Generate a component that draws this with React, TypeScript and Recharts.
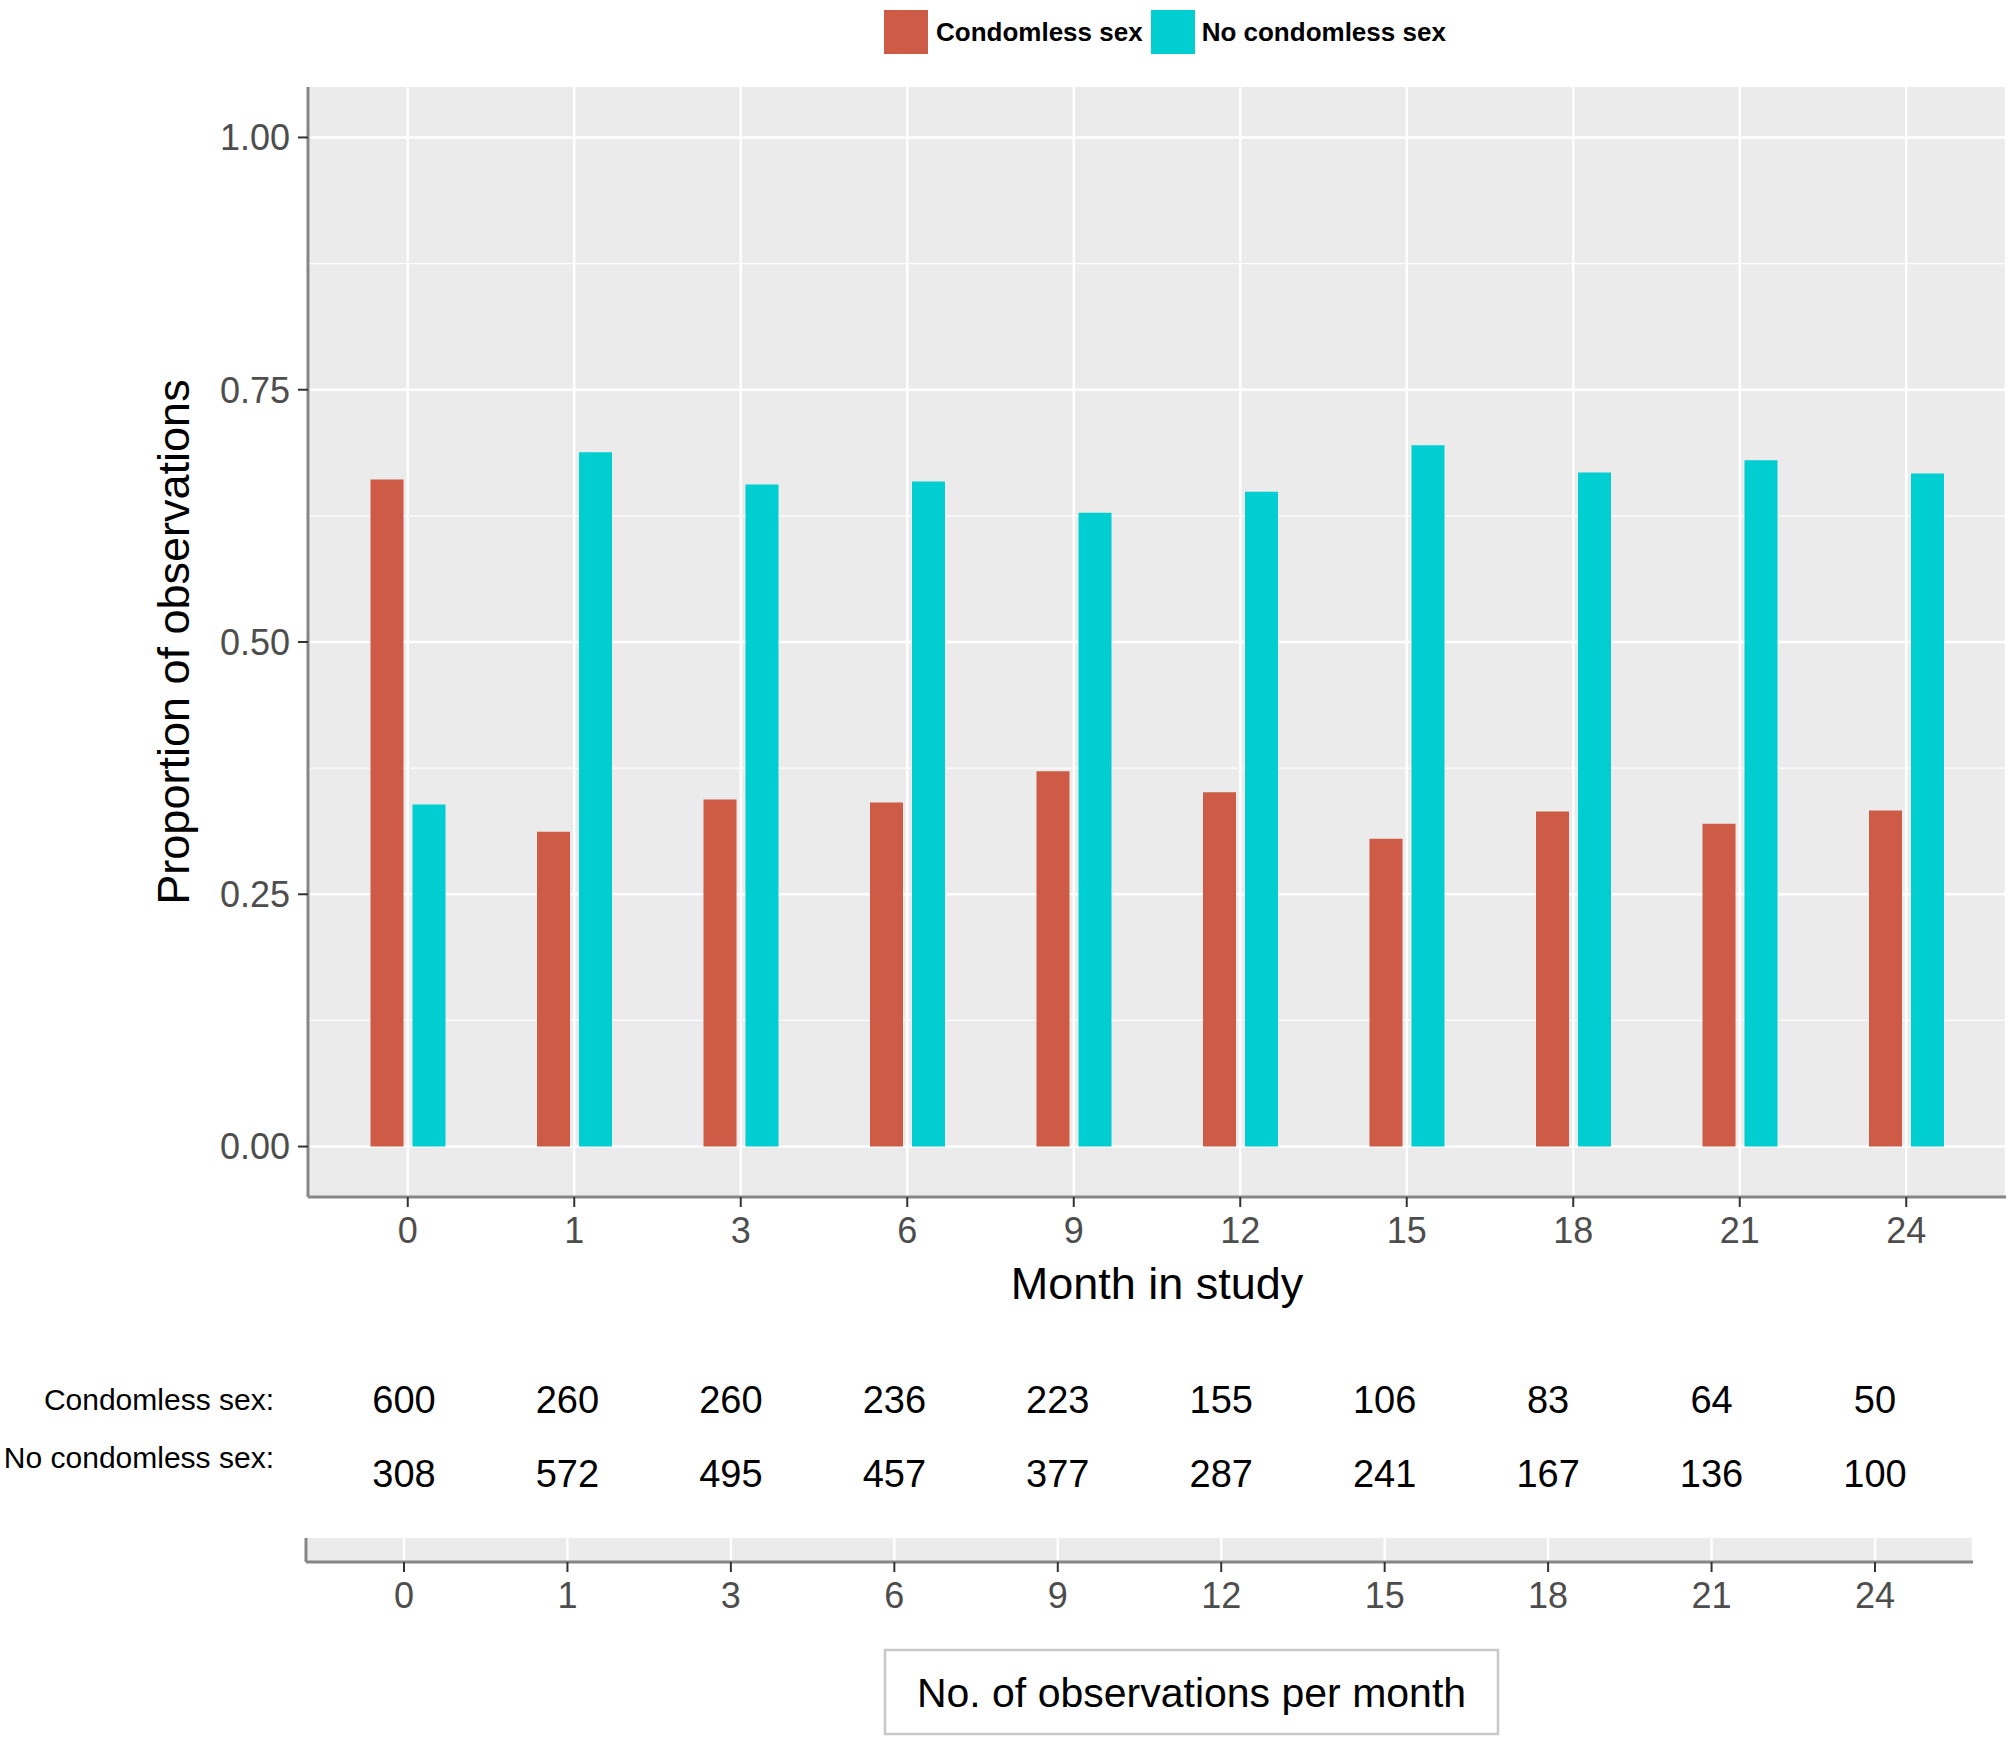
import React from 'react';
import { BarChart, Bar, XAxis, YAxis, CartesianGrid, Legend, ComposedChart } from 'recharts';

const FONT = "'Liberation Sans', Arial, Helvetica, sans-serif";

const months = ['0', '1', '3', '6', '9', '12', '15', '18', '21', '24'];
const condomlessProp = [0.661, 0.312, 0.344, 0.341, 0.372, 0.351, 0.305, 0.332, 0.320, 0.333];
const noCondomlessProp = [0.339, 0.688, 0.656, 0.659, 0.628, 0.649, 0.695, 0.668, 0.680, 0.667];
const condomlessCounts = [600, 260, 260, 236, 223, 155, 106, 83, 64, 50];
const noCondomlessCounts = [308, 572, 495, 457, 377, 287, 241, 167, 136, 100];
const yTicks = [0, 0.25, 0.5, 0.75, 1];
const yMinorTicks = [0.125, 0.375, 0.625, 0.875];

const seriesNames = { cond: 'Condomless sex', no: 'No condomless sex' };
const COLORS = { cond: '#CD5B45', no: '#00CED1' };

const mainData = months.map((m, i) => ({ month: m, cond: condomlessProp[i], no: noCondomlessProp[i] }));
const tableData = months.map((m, i) => ({ month: m, cond: condomlessCounts[i], no: noCondomlessCounts[i] }));

const AXIS_LINE = { stroke: '#868686', strokeWidth: 3 };
const TICK_LINE = { stroke: '#333333', strokeWidth: 2 };
const PANEL = '#EBEBEB';
const TABLE_PAD = { left: 98, right: 98 };

const renderLegend = () => (
  <div style={{ display: 'flex', alignItems: 'center', height: 56, paddingLeft: 884, paddingTop: 8, boxSizing: 'border-box', fontFamily: FONT }}>
    <div style={{ width: 44, height: 44, background: COLORS.cond }} />
    <span style={{ marginLeft: 8, fontSize: 26, fontWeight: 'bold', color: '#000' }}>{seriesNames.cond}</span>
    <div style={{ width: 44, height: 44, background: COLORS.no, marginLeft: 8 }} />
    <span style={{ marginLeft: 7, fontSize: 26, fontWeight: 'bold', color: '#000' }}>{seriesNames.no}</span>
  </div>
);

const YLabel = (props: any) => {
  const vb = props.viewBox || { x: 0, y: 0, width: 0, height: 0 };
  const bx = vb.x + 189;
  const cy = vb.y + vb.height / 2;
  return (
    <text x={bx} y={cy} transform={`rotate(-90 ${bx} ${cy})`} textAnchor="middle" fontSize={45} fill="#000" fontFamily={FONT}>
      Proportion of observations
    </text>
  );
};

const XLabel = (props: any) => {
  const vb = props.viewBox || { x: 0, y: 0, width: 0, height: 0 };
  return (
    <text x={vb.x + vb.width / 2} y={vb.y + 102} textAnchor="middle" fontSize={45} fill="#000" fontFamily={FONT}>
      Month in study
    </text>
  );
};

const lookup = (key: 'cond' | 'no', month: string) => {
  const row = tableData.find((d) => d.month === String(month));
  return row ? row[key] : '';
};

const CondTick = (p: any) => (
  <text x={p.x} y={p.y - 51} textAnchor="middle" fontSize={38} fill="#000" fontFamily={FONT}>
    {lookup('cond', p.payload.value)}
  </text>
);
const NoTick = (p: any) => (
  <text x={p.x} y={p.y - 51} textAnchor="middle" fontSize={38} fill="#000" fontFamily={FONT}>
    {lookup('no', p.payload.value)}
  </text>
);

const CondLabel = (props: any) => {
  const vb = props.viewBox || { x: 0, y: 0, width: 0, height: 0 };
  return (
    <text x={vb.x - 32} y={vb.y + vb.height - 54} textAnchor="end" fontSize={30} fill="#000" fontFamily={FONT}>
      {seriesNames.cond}:
    </text>
  );
};
const NoLabel = (props: any) => {
  const vb = props.viewBox || { x: 0, y: 0, width: 0, height: 0 };
  return (
    <text x={vb.x - 32} y={vb.y + vb.height - 70} textAnchor="end" fontSize={30} fill="#000" fontFamily={FONT}>
      {seriesNames.no}:
    </text>
  );
};

const BoxLabel = (props: any) => {
  const vb = props.viewBox || { x: 0, y: 0, width: 0, height: 0 };
  const left = vb.x + 579;
  const top = vb.y + 88;
  return (
    <g>
      <rect x={left} y={top} width={613} height={84} fill="#FFFFFF" stroke="#C8C8C8" strokeWidth={2.5} />
      <text x={left + 306.5} y={top + 42 + 14.5} textAnchor="middle" fontSize={41} fill="#000" fontFamily={FONT}>
        No. of observations per month
      </text>
    </g>
  );
};

export default function App() {
  return (
    <div style={{ position: 'absolute', left: 0, top: 0, width: 2014, height: 1742, background: '#FFFFFF', fontFamily: FONT, overflow: 'hidden' }}>
      <div style={{ position: 'absolute', left: 0, top: 0 }}>
        <BarChart
          width={2014}
          height={1330}
          data={mainData}
          margin={{ top: 31, right: 8, left: 0, bottom: 0 }}
          barGap={9}
          barSize={33}
        >
          <CartesianGrid fill={PANEL} stroke="#FFFFFF" strokeWidth={1.2} horizontalValues={yMinorTicks} vertical={false} />
          <CartesianGrid fill="none" stroke="#FFFFFF" strokeWidth={2.4} horizontalValues={yTicks} />
          <Legend verticalAlign="top" align="left" content={renderLegend} wrapperStyle={{ top: 0, left: 0, width: 2014, height: 56 }} />
          <XAxis
            dataKey="month"
            padding={{ left: 16.5, right: 16.5 }}
            height={133}
            interval={0}
            tickSize={10}
            tickMargin={10}
            tick={{ fontSize: 36, fill: '#4D4D4D', fontFamily: FONT }}
            tickLine={TICK_LINE}
            axisLine={AXIS_LINE}
            label={{ content: XLabel } as any}
          />
          <YAxis
            type="number"
            width={308}
            domain={[-0.05, 1.05]}
            allowDataOverflow
            ticks={yTicks}
            interval={0}
            tickFormatter={(v: number) => v.toFixed(2)}
            tickSize={10}
            tickMargin={8}
            tick={{ fontSize: 36, fill: '#4D4D4D', fontFamily: FONT }}
            tickLine={TICK_LINE}
            axisLine={AXIS_LINE}
            label={{ content: YLabel } as any}
          />
          <Bar dataKey="cond" name={seriesNames.cond} fill={COLORS.cond} isAnimationActive={false} />
          <Bar dataKey="no" name={seriesNames.no} fill={COLORS.no} isAnimationActive={false} />
        </BarChart>
      </div>
      <div style={{ position: 'absolute', left: 0, top: 1330 }}>
        <ComposedChart width={2014} height={412} data={tableData} margin={{ top: 60, right: 41, left: 0, bottom: 0 }}>
          <CartesianGrid xAxisId="m" fill={PANEL} stroke="#FFFFFF" strokeWidth={2.4} horizontal={false} />
          <XAxis
            xAxisId="r1"
            orientation="top"
            dataKey="month"
            height={74}
            interval={0}
            padding={TABLE_PAD}
            axisLine={false}
            tickLine={false}
            tickSize={0}
            tickMargin={0}
            tick={NoTick}
            label={{ content: NoLabel } as any}
          />
          <XAxis
            xAxisId="r2"
            orientation="top"
            dataKey="month"
            height={74}
            interval={0}
            padding={TABLE_PAD}
            axisLine={false}
            tickLine={false}
            tickSize={0}
            tickMargin={0}
            tick={CondTick}
            label={{ content: CondLabel } as any}
          />
          <XAxis
            xAxisId="m"
            dataKey="month"
            height={180}
            interval={0}
            padding={TABLE_PAD}
            tickSize={10}
            tickMargin={10}
            tick={{ fontSize: 36, fill: '#4D4D4D', fontFamily: FONT }}
            tickLine={TICK_LINE}
            axisLine={AXIS_LINE}
            label={{ content: BoxLabel } as any}
          />
          <YAxis width={306} domain={[0, 1]} tick={false} tickLine={false} axisLine={AXIS_LINE} />
        </ComposedChart>
      </div>
    </div>
  );
}
